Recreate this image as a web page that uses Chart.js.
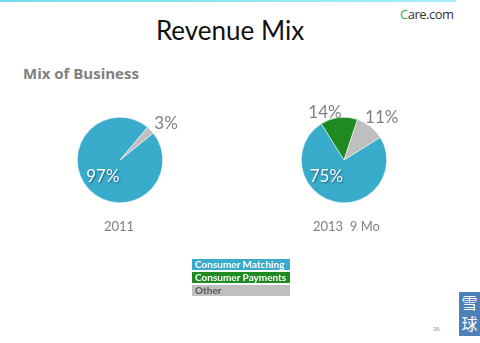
<!DOCTYPE html>
<html>
<head>
<meta charset="utf-8">
<script src="https://cdn.jsdelivr.net/npm/chart.js@4"></script>
<style>
  body { margin: 0; background: #fff; }
  #page { position: relative; width: 480px; height: 343px; overflow: hidden; font-family: Lato, "Open Sans", sans-serif; }
  #topline { position: absolute; left: 0; top: 0; width: 456px; height: 2px; background: linear-gradient(to right, #6fdfee, #a8eef6); }
  #logo { position: absolute; left: 400px; top: 5px; font: 13px "Open Sans", sans-serif; color: #333; letter-spacing: -0.5px; }
  #logo b { font-weight: 400; color: #3aa64a; }
  #title { position: absolute; left: 0; width: 460px; top: 14px; text-align: center; font: 26px Lato, sans-serif; color: #111; }
  #sub { position: absolute; left: 23px; top: 63px; font: bold 15px "Open Sans", sans-serif; color: #808080; }
  .cv { position: absolute; }
  .year { position: absolute; font: 13px Lato, sans-serif; color: #808080; }
  .key { position: absolute; left: 192px; width: 98px; height: 11px; font: bold 10px Lato, sans-serif; line-height: 11px; padding-left: 3px; box-sizing: border-box; color: #fff; white-space: nowrap; overflow: hidden; }
  #pg { position: absolute; left: 433px; top: 326px; font: 6px sans-serif; color: #999; }
  #xq { position: absolute; left: 459px; top: 292px; width: 21px; height: 44px; background: #4c80b8; color: #fff; font: 16px "Noto Sans CJK SC", sans-serif; line-height: 21px; text-align: center; }
</style>
</head>
<body>
<div id="page">
  <div id="topline"></div>
  <div id="logo"><b>C</b>are.com</div>
  <div id="title">Revenue Mix</div>
  <div id="sub">Mix of Business</div>
  <div class="cv" style="left:40px;top:95px;width:160px;height:130px"><canvas id="pie2011"></canvas></div>
  <div class="cv" style="left:264px;top:95px;width:160px;height:130px"><canvas id="pie2013"></canvas></div>
  <div class="year" style="left:104px;top:218px">2011</div>
  <div class="year" style="left:313px;top:218px">2013&nbsp;&nbsp;9 Mo</div>
  <div id="legend"></div>
  <div id="pg">36</div>
  <div id="xq">雪<br>球</div>
</div>
<script>
const categories = ['Consumer Matching', 'Consumer Payments', 'Other'];
const colors = ['#39abcb', '#1f8a22', '#bfbfbf'];
const mix2011 = [97, 0, 3];
const mix2013 = [75, 14, 11];

// legend swatches with the name written inside
const legend = document.getElementById('legend');
categories.forEach(function(name, i) {
  const d = document.createElement('div');
  d.className = 'key';
  d.style.top = (259 + i * 13) + 'px';
  d.style.background = colors[i];
  if (i === 2) d.style.color = '#555';
  d.textContent = name;
  legend.appendChild(d);
});

// percent labels: inside ones white with a shadow, outside ones gray
const pctLabels = {
  id: 'pctLabels',
  afterDatasetsDraw(chart, args, opts) {
    const ctx = chart.ctx;
    const arcs = chart.getDatasetMeta(0).data;
    const values = chart.data.datasets[0].data;
    arcs.forEach(function(arc, i) {
      if (!values[i]) return;
      const p = opts.place[i];
      const mid = (arc.startAngle + arc.endAngle) / 2 + (p.turn || 0);
      const r = arc.outerRadius * p.k;
      const x = arc.x + Math.cos(mid) * r;
      const y = arc.y + Math.sin(mid) * r;
      ctx.save();
      ctx.font = '17px Lato, sans-serif';
      ctx.textAlign = 'center';
      ctx.textBaseline = 'middle';
      if (p.k < 1) {
        ctx.fillStyle = '#fff';
        ctx.shadowColor = 'rgba(0,0,0,0.45)';
        ctx.shadowBlur = 2;
        ctx.shadowOffsetX = 1;
        ctx.shadowOffsetY = 1;
      } else {
        ctx.fillStyle = '#7f7f7f';
      }
      ctx.fillText(values[i] + '%', x, y);
      ctx.restore();
    });
  }
};

function makePie(id, values, rotation, place) {
  return new Chart(document.getElementById(id), {
    type: 'pie',
    data: {
      labels: categories,
      datasets: [{ data: values, backgroundColor: colors, borderColor: '#fff', borderWidth: 0.5 }]
    },
    options: {
      responsive: true,
      maintainAspectRatio: false,
      animation: false,
      rotation: rotation,
      layout: { padding: { left: 37, right: 37, top: 22, bottom: 22 } },
      plugins: { legend: { display: false }, tooltip: { enabled: false }, pctLabels: { place: place } }
    },
    plugins: [pctLabels]
  });
}

makePie('pie2011', mix2011, 51, [{ k: 0.56 }, { k: 1 }, { k: 1.38, turn: 0.1 }]);
makePie('pie2013', mix2013, 58, [{ k: 0.56, turn: 0.6 }, { k: 1.2, turn: -0.26 }, { k: 1.33, turn: 0.06 }]);
</script>
</body>
</html>
